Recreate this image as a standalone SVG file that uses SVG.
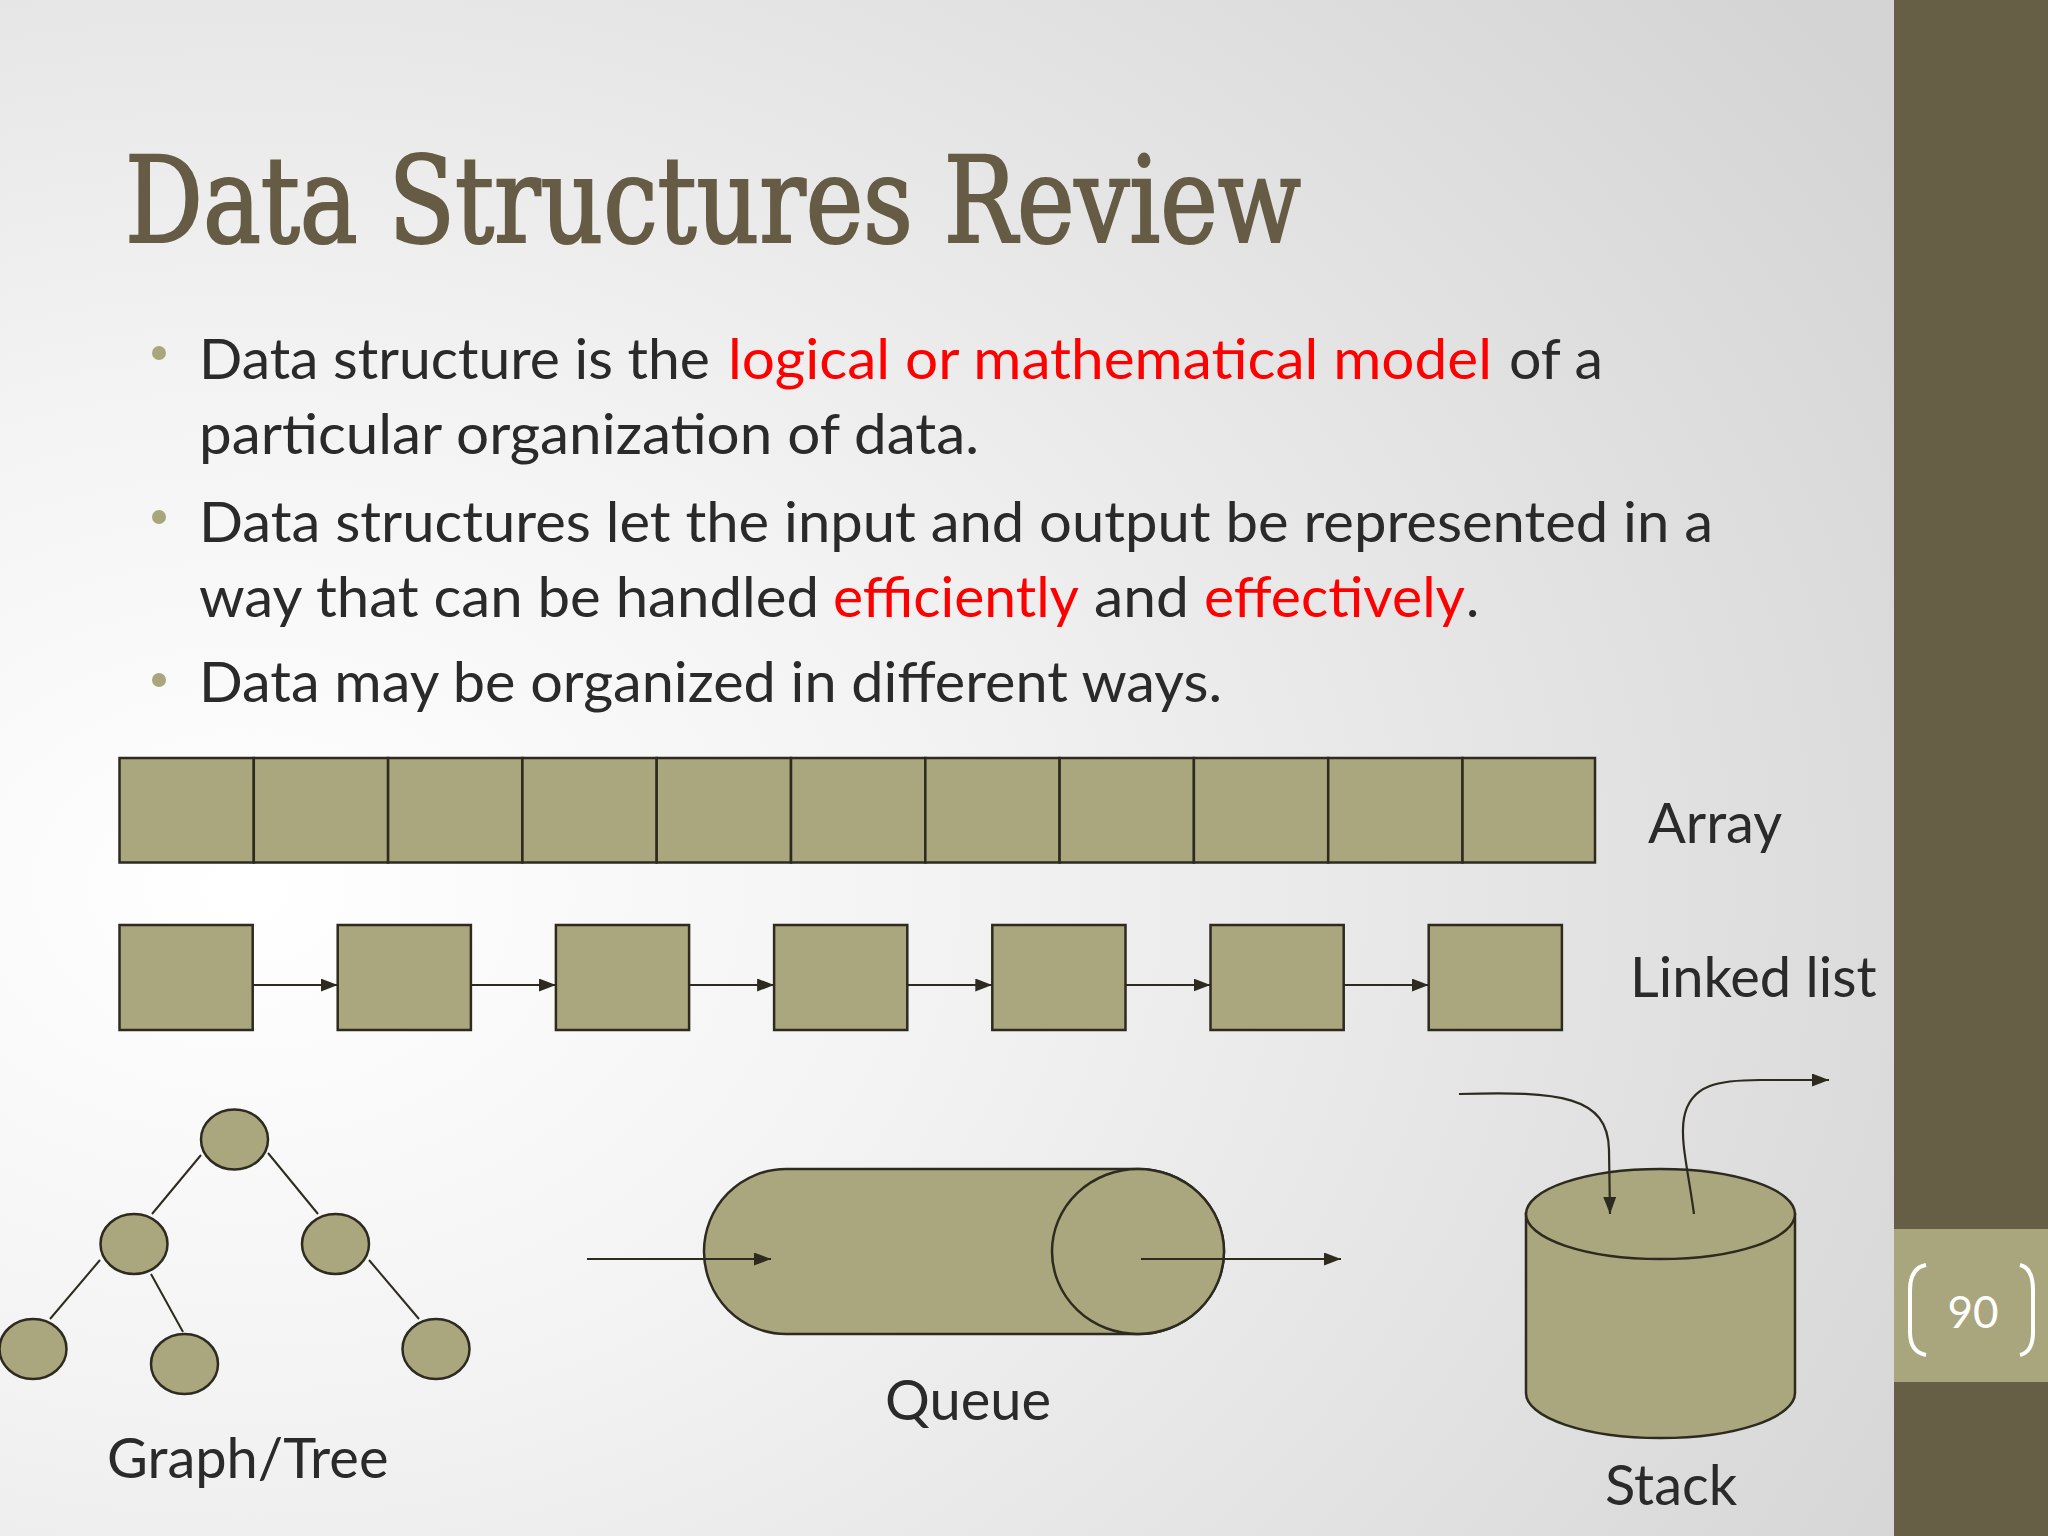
<svg xmlns="http://www.w3.org/2000/svg" width="2048" height="1536" viewBox="0 0 2048 1536">
<defs>
<radialGradient id="bg" cx="0.12" cy="0.58" r="0.95" gradientUnits="objectBoundingBox">
<stop offset="0" stop-color="#ffffff"/>
<stop offset="0.35" stop-color="#f3f3f3"/>
<stop offset="1" stop-color="#d4d4d4"/>
</radialGradient>
<marker id="ah" markerUnits="userSpaceOnUse" markerWidth="17" markerHeight="13" refX="17" refY="6.5" orient="auto">
<path d="M0,0 L17,6.5 L0,13 Z" fill="#2d2a1f"/>
</marker>
<style>
.shape{fill:#aaa67e;stroke:#2d2a1f;stroke-width:2.5}
.edge{fill:none;stroke:#2d2a1f;stroke-width:2}
.arr{fill:none;stroke:#2d2a1f;stroke-width:2.2;marker-end:url(#ah)}
.body{font-family:Lato,'Open Sans',sans-serif;font-size:56px;fill:#2a2a2a}
.red{fill:#ff0000}
.lbl{font-family:Lato,'Open Sans',sans-serif;font-size:56px;fill:#2a2a2a}
</style>
</defs>
<rect x="0" y="0" width="2048" height="1536" fill="url(#bg)"/>
<rect x="1894" y="0" width="154" height="1536" fill="#675e46"/>
<rect x="1894" y="1229" width="154" height="153" fill="#a9a67e"/>
<g id="page-number">
<path d="M1926,1265 Q1910,1268 1910,1290 L1910,1332 Q1910,1352 1926,1355" fill="none" stroke="#ffffff" stroke-width="4"/>
<path d="M2020,1265 Q2033,1268 2033,1290 L2033,1332 Q2033,1352 2020,1355" fill="none" stroke="#ffffff" stroke-width="4"/>
<text x="1973" y="1328" text-anchor="middle" font-family="Lato,'Open Sans',sans-serif" font-size="44" fill="#ffffff">90</text>
</g>
<text id="title" x="125" y="242" font-family="'DejaVu Serif Condensed','DejaVu Serif',serif" font-stretch="condensed" font-size="120" fill="#665c45" stroke="#665c45" stroke-width="2.2" textLength="1176" lengthAdjust="spacingAndGlyphs">Data Structures Review</text>
<g id="bullets">
<circle cx="159" cy="353" r="7" fill="#a9a67e"/>
<circle cx="159" cy="517" r="7" fill="#a9a67e"/>
<circle cx="159" cy="680" r="7" fill="#a9a67e"/>
<text class="body" x="199" y="379" textLength="511" lengthAdjust="spacingAndGlyphs">Data structure is the</text>
<text class="body red" x="728" y="379" textLength="764" lengthAdjust="spacingAndGlyphs">logical or mathematical model</text>
<text class="body" x="1509" y="379" textLength="94" lengthAdjust="spacingAndGlyphs">of a</text>
<text class="body" x="199" y="454" textLength="780" lengthAdjust="spacingAndGlyphs">particular organization of data.</text>
<text class="body" x="199" y="542" textLength="1514" lengthAdjust="spacingAndGlyphs">Data structures let the input and output be represented in a</text>
<text class="body" x="199" y="617" textLength="620" lengthAdjust="spacingAndGlyphs">way that can be handled</text>
<text class="body red" x="833" y="617" textLength="246" lengthAdjust="spacingAndGlyphs">efficiently</text>
<text class="body" x="1094" y="617" textLength="95" lengthAdjust="spacingAndGlyphs">and</text>
<text class="body red" x="1204" y="617" textLength="261" lengthAdjust="spacingAndGlyphs">effectively</text>
<text class="body" x="1466" y="617">.</text>
<text class="body" x="199" y="702" textLength="1023" lengthAdjust="spacingAndGlyphs">Data may be organized in different ways.</text>
</g>
<g id="array">
<rect class="shape" x="119.5" y="758" width="134.3" height="104.5"/>
<rect class="shape" x="253.8" y="758" width="134.3" height="104.5"/>
<rect class="shape" x="388.1" y="758" width="134.3" height="104.5"/>
<rect class="shape" x="522.4" y="758" width="134.3" height="104.5"/>
<rect class="shape" x="656.7" y="758" width="134.3" height="104.5"/>
<rect class="shape" x="791" y="758" width="134.3" height="104.5"/>
<rect class="shape" x="925.3" y="758" width="134.3" height="104.5"/>
<rect class="shape" x="1059.6" y="758" width="134.3" height="104.5"/>
<rect class="shape" x="1193.9" y="758" width="134.3" height="104.5"/>
<rect class="shape" x="1328.2" y="758" width="134.3" height="104.5"/>
<rect class="shape" x="1462.5" y="758" width="132.5" height="104.5"/>
<text class="lbl" x="1648" y="843">Array</text>
</g>
<g id="linked-list">
<rect id="ll1" class="shape" x="119.5" y="925" width="133.2" height="105"/>
<rect id="ll2" class="shape" x="337.7" y="925" width="133.2" height="105"/>
<rect id="ll3" class="shape" x="555.9" y="925" width="133.2" height="105"/>
<rect id="ll4" class="shape" x="774.1" y="925" width="133.2" height="105"/>
<rect id="ll5" class="shape" x="992.3" y="925" width="133.2" height="105"/>
<rect id="ll6" class="shape" x="1210.5" y="925" width="133.2" height="105"/>
<rect id="ll7" class="shape" x="1428.7" y="925" width="133.2" height="105"/>
<text class="lbl" x="1630" y="997">Linked list</text>
</g>
<g id="tree">
<ellipse id="t-root" class="shape" cx="234.5" cy="1139.5" rx="33.5" ry="30"/>
<ellipse id="t-l" class="shape" cx="134" cy="1244" rx="33.5" ry="30"/>
<ellipse id="t-r" class="shape" cx="335.5" cy="1244" rx="33.5" ry="30"/>
<ellipse id="t-ll" class="shape" cx="33" cy="1349" rx="33.5" ry="30"/>
<ellipse id="t-lr" class="shape" cx="184.5" cy="1364" rx="33.5" ry="30"/>
<ellipse id="t-rr" class="shape" cx="436" cy="1349" rx="33.5" ry="30"/>
<text class="lbl" x="107" y="1478">Graph/Tree</text>
</g>
<g id="queue">
<path class="shape" d="M786,1169 L1138,1169 A86,82.5 0 0 1 1138,1334 L786,1334 A82,82.5 0 0 1 786,1169 Z"/>
<ellipse class="shape" cx="1138" cy="1251.5" rx="86" ry="82.5"/>
<text class="lbl" x="885" y="1420">Queue</text>
</g>
<g id="stack">
<path class="shape" d="M1526,1214 L1526,1393 A134.5,45 0 0 0 1795,1393 L1795,1214 Z"/>
<ellipse class="shape" cx="1660.5" cy="1214" rx="134.5" ry="45"/>
<text class="lbl" x="1605" y="1505">Stack</text>
</g>
<g id="connectors">
<line class="edge" x1="201" y1="1155" x2="152" y2="1214"/>
<line class="edge" x1="268" y1="1153" x2="318" y2="1214"/>
<line class="edge" x1="100" y1="1260" x2="50" y2="1319"/>
<line class="edge" x1="151" y1="1274" x2="183" y2="1332"/>
<line class="edge" x1="369" y1="1260" x2="419" y2="1319"/>
<line class="arr" x1="252.7" y1="985" x2="337.7" y2="985"/>
<line class="arr" x1="470.9" y1="985" x2="555.9" y2="985"/>
<line class="arr" x1="689.1" y1="985" x2="774.1" y2="985"/>
<line class="arr" x1="907.3" y1="985" x2="992.3" y2="985"/>
<line class="arr" x1="1125.5" y1="985" x2="1210.5" y2="985"/>
<line class="arr" x1="1343.7" y1="985" x2="1428.7" y2="985"/>
<line class="arr" x1="587" y1="1259" x2="771" y2="1259"/>
<line class="arr" x1="1141" y1="1259" x2="1341" y2="1259"/>
<path class="arr" d="M1459,1094 C1560,1091 1608,1096 1609,1150 L1610,1214"/>
<path class="arr" d="M1694,1214 C1688,1170 1680,1140 1684,1118 C1690,1084 1720,1080 1760,1080 L1829,1080"/>
</g>
</svg>
